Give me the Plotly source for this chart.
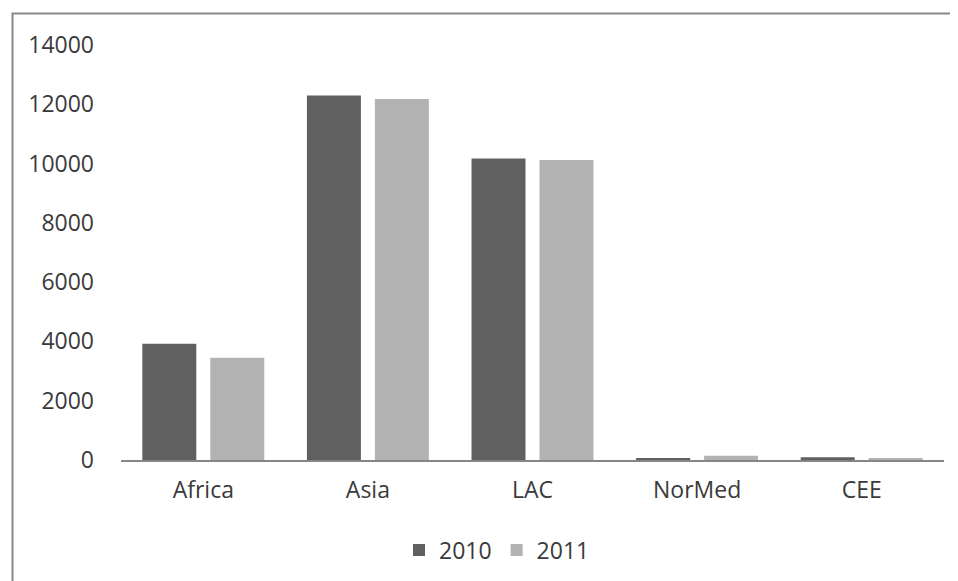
import plotly.graph_objects as go

categories = ["Africa", "Asia", "LAC", "NorMed", "CEE"]
values_2010 = [3920, 12300, 10170, 60, 90]
values_2011 = [3450, 12180, 10120, 145, 55]
tick_vals = [0, 2000, 4000, 6000, 8000, 10000, 12000, 14000]
tick_text = ["0", "2000", "4000", "6000", "8000", "10000", "12000", "14000"]

OFF = 8  # page body margin
W, H = 958 - OFF, 581 - OFF
L, R, T, B = 121 - OFF, 14, 45 - OFF, 121
pw, ph = W - L - R, H - T - B

fig = go.Figure()
fig.add_trace(go.Bar(name="2010", x=categories, y=values_2010,
                     marker=dict(color="#606060", line=dict(width=0))))
fig.add_trace(go.Bar(name="2011", x=categories, y=values_2011,
                     marker=dict(color="#b2b2b2", line=dict(width=0))))

def px_x(x):
    return (x - OFF - L) / pw

def px_y(y):
    return (H - B - (y - OFF)) / ph

fig.add_shape(type="rect", xref="paper", yref="paper",
              x0=px_x(12.5), x1=px_x(975), y0=px_y(600), y1=px_y(13.5),
              line=dict(color="#888888", width=2), fillcolor="rgba(0,0,0,0)",
              layer="below")

fig.update_layout(
    width=W, height=H,
    margin=dict(l=L, r=R, t=T, b=B, autoexpand=False),
    paper_bgcolor="white", plot_bgcolor="white",
    barmode="group", bargap=0.174, bargroupgap=0.206,
    font=dict(family="Open Sans, Lato, sans-serif", size=23, color="#3a3a3a"),
    showlegend=True,
    legend=dict(orientation="h", x=px_x(497), xanchor="center",
                y=px_y(550), yanchor="middle",
                font=dict(size=23, color="#3a3a3a"),
                itemwidth=30, tracegroupgap=0),
    xaxis=dict(showgrid=False, showline=True, linecolor="#868686", linewidth=2,
               ticks="", tickfont=dict(size=23), zeroline=False,
               ticklabelstandoff=8),
    yaxis=dict(range=[0, 14000], tickvals=tick_vals, ticktext=tick_text,
               showgrid=False, showline=False, zeroline=False, ticks="",
               ticklabelstandoff=26, tickfont=dict(size=23)),
)

fig.write_html("out.html")
